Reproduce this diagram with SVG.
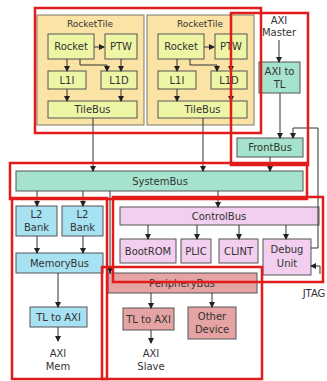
<svg xmlns="http://www.w3.org/2000/svg" width="327" height="381" viewBox="0 0 327 381">
<style>
text{font-family:"DejaVu Sans","Liberation Sans",sans-serif;font-size:10px;fill:#333;text-anchor:middle}
.tile{fill:#FBE3A5;stroke:#7a7a6a;stroke-width:1}
.y{fill:#EEF6A6;stroke:#555;stroke-width:1}
.t{fill:#A6E3CC;stroke:#555;stroke-width:1}
.b{fill:#A6E2F2;stroke:#555;stroke-width:1}
.p{fill:#F2CFEE;stroke:#555;stroke-width:1}
.s{fill:#E6A3A3;stroke:#555;stroke-width:1}
.c{fill:none;stroke:#333;stroke-width:1;marker-end:url(#ah)}
.r{fill:none;stroke:#E31B1B;stroke-width:2.5}
</style>
<defs>
<marker id="ah" markerWidth="6" markerHeight="6" refX="5" refY="3" orient="auto" markerUnits="userSpaceOnUse">
<path d="M0,0 L6,3 L0,6 z" fill="#222"/>
</marker>
</defs>
<rect width="327" height="381" fill="#fff"/>

<g id="tile1">
<rect class="tile" x="37" y="15" width="107" height="110"/>
<text x="90" y="27" style="font-size:9px">RocketTile</text>
<g id="rocket1"><rect class="y" x="48" y="34" width="46" height="25"/><text x="71" y="50">Rocket</text></g>
<g id="ptw1"><rect class="y" x="105" y="34" width="32" height="25"/><text x="121" y="50">PTW</text></g>
<g id="l1i1"><rect class="y" x="48" y="71" width="38" height="18"/><text x="67" y="83.5">L1I</text></g>
<g id="l1d1"><rect class="y" x="101" y="71" width="36" height="18"/><text x="119" y="83.5">L1D</text></g>
<g id="tilebus1"><rect class="y" x="48" y="101" width="89" height="17"/><text x="92.5" y="113">TileBus</text></g>
</g>

<g id="tile2">
<rect class="tile" x="147" y="15" width="107" height="110"/>
<text x="200" y="27" style="font-size:9px">RocketTile</text>
<g id="rocket2"><rect class="y" x="158" y="34" width="46" height="25"/><text x="181" y="50">Rocket</text></g>
<g id="ptw2"><rect class="y" x="215" y="34" width="32" height="25"/><text x="231" y="50">PTW</text></g>
<g id="l1i2"><rect class="y" x="158" y="71" width="38" height="18"/><text x="177" y="83.5">L1I</text></g>
<g id="l1d2"><rect class="y" x="211" y="71" width="36" height="18"/><text x="229" y="83.5">L1D</text></g>
<g id="tilebus2"><rect class="y" x="158" y="101" width="89" height="17"/><text x="202.5" y="113">TileBus</text></g>
</g>

<g id="axim"><text x="279" y="24">AXI</text><text x="279" y="36">Master</text></g>
<g id="axitotl"><rect class="t" x="259" y="62" width="41" height="31"/><text x="279.5" y="75">AXI to</text><text x="279.5" y="88">TL</text></g>
<g id="frontbus"><rect class="t" x="237" y="138" width="66" height="19"/><text x="270" y="151">FrontBus</text></g>
<g id="systembus"><rect class="t" x="16" y="171" width="287" height="20"/><text x="160" y="184.5">SystemBus</text></g>

<g id="l2a"><rect class="b" x="16" y="206" width="41" height="30"/><text x="36.5" y="218">L2</text><text x="36.5" y="231">Bank</text></g>
<g id="l2b"><rect class="b" x="62" y="206" width="41" height="30"/><text x="82.5" y="218">L2</text><text x="82.5" y="231">Bank</text></g>
<g id="memorybus"><rect class="b" x="16" y="253" width="87" height="20"/><text x="59.5" y="266.5">MemoryBus</text></g>
<g id="tltoaxi1"><rect class="b" x="30" y="307" width="57" height="20"/><text x="58.5" y="320.5">TL to AXI</text></g>
<g id="aximem"><text x="58" y="357">AXI</text><text x="58" y="370">Mem</text></g>

<g id="controlbus"><rect class="p" x="120" y="207" width="199" height="18"/><text x="219" y="219.5">ControlBus</text></g>
<g id="bootrom"><rect class="p" x="120" y="239" width="56" height="24"/><text x="148" y="254.5">BootROM</text></g>
<g id="plic"><rect class="p" x="181" y="239" width="30" height="24"/><text x="196" y="254.5">PLIC</text></g>
<g id="clint"><rect class="p" x="219" y="239" width="39" height="24"/><text x="238.5" y="254.5">CLINT</text></g>
<g id="debug"><rect class="p" x="263" y="239" width="48" height="36"/><text x="287" y="253">Debug</text><text x="287" y="267">Unit</text></g>
<g id="jtag"><text x="314" y="297">JTAG</text></g>

<g id="peripherybus"><rect class="s" x="108" y="273" width="149" height="20"/><text x="182" y="286.5">PeripheryBus</text></g>
<g id="tltoaxi2"><rect class="s" x="123" y="308" width="51" height="22"/><text x="148.5" y="322.5">TL to AXI</text></g>
<g id="other"><rect class="s" x="188" y="307" width="48" height="32"/><text x="212" y="320">Other</text><text x="212" y="333">Device</text></g>
<g id="axislave"><text x="151" y="357">AXI</text><text x="151" y="370">Slave</text></g>

<g id="connectors">
<path class="c" d="M94 47 H104"/>
<path class="c" d="M67 59 V71"/>
<path class="c" d="M80 59 V65 H107 V71"/>
<path class="c" d="M121 59 V71"/>
<path class="c" d="M67 89 V101"/>
<path class="c" d="M121 89 V101"/>
<path class="c" d="M93 118 V171"/>
<path class="c" d="M204 47 H214"/>
<path class="c" d="M177 59 V71"/>
<path class="c" d="M190 59 V65 H217 V71"/>
<path class="c" d="M231 59 V71"/>
<path class="c" d="M177 89 V101"/>
<path class="c" d="M231 89 V101"/>
<path class="c" d="M203 118 V171"/>
<path class="c" d="M279 40 V62"/>
<path class="c" d="M280 93 V138"/>
<path class="c" d="M311 248 H318 V128 H293 V138"/>
<path class="c" d="M270 157 V171"/>
<path class="c" d="M320 274 V266 H311"/>
<path class="c" d="M37 191 V206"/>
<path class="c" d="M83 191 V206"/>
<path class="c" d="M218 191 V207"/>
<path class="c" d="M110 191 V273"/>
<path class="c" d="M37 236 V253"/>
<path class="c" d="M83 236 V253"/>
<path class="c" d="M58 273 V307"/>
<path class="c" d="M58 327 V341"/>
<path class="c" d="M148 225 V239"/>
<path class="c" d="M197 225 V239"/>
<path class="c" d="M239 225 V239"/>
<path class="c" d="M286 225 V239"/>
<path class="c" d="M151 293 V308"/>
<path class="c" d="M212 293 V307"/>
<path class="c" d="M151 330 V343"/>
</g>

<g id="regions">
<rect class="r" x="35" y="8" width="226" height="125"/>
<rect class="r" x="231" y="13" width="77" height="152"/>
<rect class="r" x="10" y="163" width="297" height="36"/>
<rect class="r" x="12" y="198" width="95" height="181"/>
<rect class="r" x="113" y="197" width="210" height="85"/>
<rect class="r" x="102" y="267" width="160" height="112"/>
</g>
</svg>
